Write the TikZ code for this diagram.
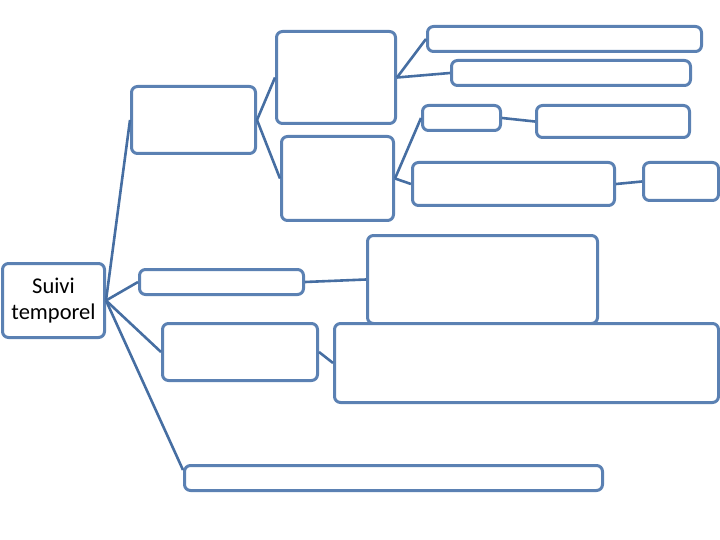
\documentclass[tikz,border=0pt]{standalone}
\usepackage{fontspec}
\setmainfont{Carlito}
\begin{document}
\begin{tikzpicture}[x=1pt,y=-1pt,
  box/.style={draw=boxc, fill=white, line width=3pt, rounded corners=6pt, inner sep=0pt},
  conn/.style={draw=linec, line width=2.6pt}]
\definecolor{boxc}{HTML}{5B81B3}
\definecolor{linec}{HTML}{466EA2}
\useasboundingbox (0,0) rectangle (720,540);
% nodes
\node[box, minimum width=102pt, minimum height=74pt, align=center, font=\fontsize{22.5}{26}\selectfont] (root) at (53.5,300.5) {Suivi\\temporel};
\node[box, minimum width=124pt, minimum height=67pt] (A) at (193.5,120) {};
\node[box, minimum width=119pt, minimum height=92pt] (B) at (336,77.5) {};
\node[box, minimum width=112pt, minimum height=84pt] (C) at (337.5,178.5) {};
\node[box, minimum width=274pt, minimum height=25pt] (B1) at (564.5,39) {};
\node[box, minimum width=239pt, minimum height=25pt] (B2) at (571,73) {};
\node[box, minimum width=78pt, minimum height=25pt] (C1) at (461.5,118) {};
\node[box, minimum width=153pt, minimum height=32pt] (C1a) at (613,121.5) {};
\node[box, minimum width=202pt, minimum height=43pt] (C2) at (513.5,184) {};
\node[box, minimum width=75pt, minimum height=38pt] (C2a) at (681,181.5) {};
\node[box, minimum width=164pt, minimum height=25pt] (D) at (221.5,282) {};
\node[box, minimum width=230pt, minimum height=88pt] (D1) at (482.5,279.5) {};
\node[box, minimum width=155pt, minimum height=57pt] (F) at (240,352) {};
\node[box, minimum width=384pt, minimum height=79pt] (E) at (526.5,363) {};
\node[box, minimum width=418pt, minimum height=25pt] (G) at (393.5,478) {};
\coordinate (Gin) at ([yshift=-6pt]G.north west);
% connectors
\draw[conn] (root.east) -- (A.west);
\draw[conn] (root.east) -- (D.west);
\draw[conn] (root.east) -- (F.west);
\draw[conn] (root.east) -- (Gin);
\draw[conn] (A.east) -- (B.west);
\draw[conn] (A.east) -- (C.west);
\draw[conn] (B.east) -- (B1.west);
\draw[conn] (B.east) -- (B2.west);
\draw[conn] (C.east) -- (C1.west);
\draw[conn] (C.east) -- (C2.west);
\draw[conn] (C1.east) -- (C1a.west);
\draw[conn] (C2.east) -- (C2a.west);
\draw[conn] (D.east) -- (D1.west);
\draw[conn] (F.east) -- (E.west);
\end{tikzpicture}
\end{document}
